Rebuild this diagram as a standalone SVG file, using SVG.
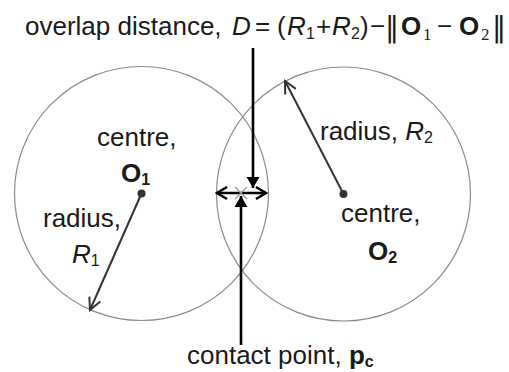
<svg xmlns="http://www.w3.org/2000/svg" width="509" height="372" viewBox="0 0 509 372">
<defs>
<style>
text{font-family:"Liberation Sans",Arial,sans-serif;font-size:26px;fill:#1a1a1a}
.it{font-style:italic}
.b{font-weight:bold}
.sub{font-size:16px}
.ser{font-family:"Liberation Serif","Times New Roman",serif;font-size:17px}
.nrm{font-family:"DejaVu Sans",sans-serif;font-size:28px}
.circ{fill:none;stroke:#8c8c8c;stroke-width:1.2}
.rad{stroke:#333;stroke-width:2;fill:none}
.blk{stroke:#000;stroke-width:2.6;fill:none}
</style>
<marker id="openG" markerUnits="userSpaceOnUse" viewBox="-14 -8 16 16" refX="0" refY="0" markerWidth="16" markerHeight="16" orient="auto-start-reverse">
<path d="M-12,-6 L0,0 L-12,6" fill="none" stroke="#333" stroke-width="2"/>
</marker>
<marker id="openK" markerUnits="userSpaceOnUse" viewBox="-14 -8 16 16" refX="0" refY="0" markerWidth="16" markerHeight="16" orient="auto-start-reverse">
<path d="M-10,-6 L0,0 L-10,6" fill="none" stroke="#000" stroke-width="2.6"/>
</marker>
<marker id="fillK" markerUnits="userSpaceOnUse" viewBox="-14 -8 16 16" refX="0" refY="0" markerWidth="16" markerHeight="16" orient="auto">
<path d="M-11,-6.5 L0,0 L-11,6.5 Z" fill="#000"/>
</marker>
</defs>
<rect width="509" height="372" fill="#fff"/>

<g id="circle1">
<circle class="circ" cx="141.5" cy="193.5" r="127"/>
<circle cx="141.5" cy="193.5" r="4" fill="#333"/>
<text x="97" y="146">centre,</text>
<text x="121" y="182" class="b">O<tspan class="sub" dy="3">1</tspan></text>
<text x="43" y="227">radius,</text>
<text x="72" y="263" class="it">R<tspan class="sub" style="font-style:normal" dy="3">1</tspan></text>
</g>

<g id="circle2">
<circle class="circ" cx="343.5" cy="194" r="127"/>
<circle cx="343.5" cy="194" r="4" fill="#333"/>
<text x="320" y="140">radius, <tspan class="it">R</tspan><tspan class="sub" dy="3">2</tspan></text>
<text x="341" y="222">centre,</text>
<text x="368" y="260" class="b">O<tspan class="sub" dy="3">2</tspan></text>
</g>

<g id="overlap-label">
<text x="25" y="35">overlap distance,</text>
<text x="232" y="35" class="it">D</text>
<text x="255" y="35">=</text>
<text x="277" y="35">(</text>
<text x="287" y="35" class="it">R</text>
<text x="306" y="39" class="sub">1</text>
<text x="316" y="35">+</text>
<text x="332" y="35" class="it">R</text>
<text x="351" y="39" class="sub">2</text>
<text x="360" y="35">)</text>
<text x="370" y="35">−</text>
<text x="385" y="37" class="nrm">‖</text>
<text x="401" y="35" class="b">O</text>
<text x="423" y="40" class="ser">1</text>
<text x="437" y="35">−</text>
<text x="459" y="35" class="b">O</text>
<text x="481" y="40" class="ser">2</text>
<text x="492" y="37" class="nrm">‖</text>
</g>

<g id="contact-label">
<text x="187" y="364">contact point, <tspan class="b">p</tspan><tspan class="b sub" dy="3">c</tspan></text>
</g>

<g id="connectors">
<line class="rad" x1="141.5" y1="193.5" x2="90" y2="310" marker-end="url(#openG)"/>
<line class="rad" x1="343.5" y1="194" x2="285" y2="81" marker-end="url(#openG)"/>
<line class="blk" x1="217" y1="193" x2="266" y2="193" marker-start="url(#openK)" marker-end="url(#openK)"/>
<line class="blk" x1="253" y1="48" x2="253" y2="188" marker-end="url(#fillK)"/>
<line class="blk" x1="241" y1="345" x2="241" y2="196" marker-end="url(#fillK)"/>
<path d="M235,187 L247,199 M247,187 L235,199" stroke="#999" stroke-width="1.2" fill="none"/>
</g>
</svg>
